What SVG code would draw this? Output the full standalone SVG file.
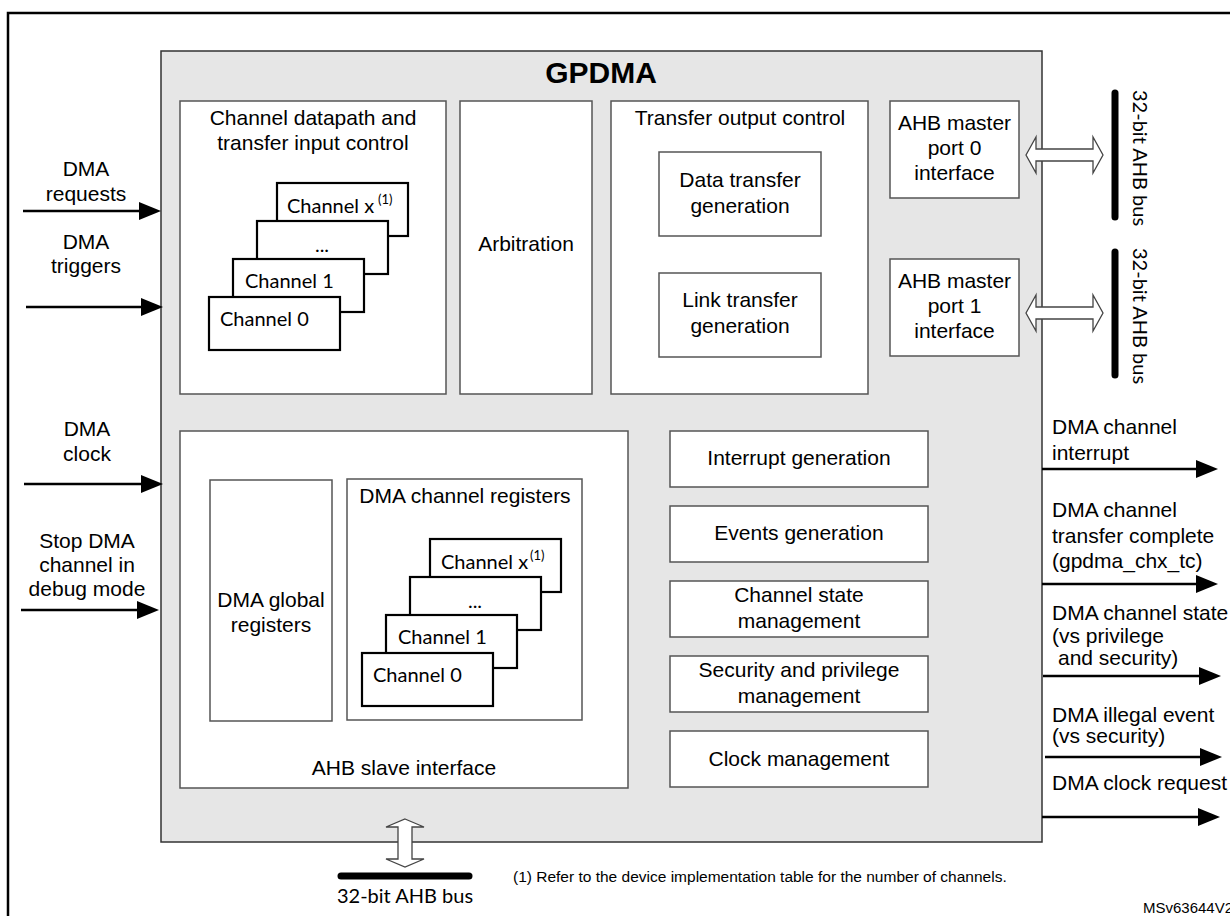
<svg xmlns="http://www.w3.org/2000/svg" width="1230" height="916" viewBox="0 0 1230 916">
<defs>
<marker id="ah" markerUnits="userSpaceOnUse" markerWidth="22" markerHeight="18" refX="12" refY="9" orient="auto"><path d="M0,0 L22,9 L0,18 Z" fill="#000"/></marker>
</defs>
<style>
.t{font-family:"Liberation Sans",Arial,sans-serif;font-size:21px;fill:#000}
.c{text-anchor:middle}
.cal{font-family:Lato,"Liberation Sans",sans-serif;font-size:20px;fill:#000}
.sup{font-family:Lato,"Liberation Sans",sans-serif;font-size:13px;fill:#000}
.box{fill:#fff;stroke:#555;stroke-width:1.5}
.ch{fill:#fff;stroke:#000;stroke-width:2.2}
.sig{stroke:#000;stroke-width:2.5;fill:none;marker-end:url(#ah)}
.dbl{fill:#fff;stroke:#444;stroke-width:1.3}
.bar{stroke:#000;stroke-width:7;stroke-linecap:round}
</style>
<rect x="0" y="0" width="1230" height="916" fill="#fff"/>
<rect x="8" y="13" width="1240" height="920" fill="#fff" stroke="#000" stroke-width="2.5"/>

<g id="gpdma">
<rect x="161" y="51" width="881" height="791" fill="#e6e6e6" stroke="#333" stroke-width="1.5"/>
<text x="601" y="83" class="t c" style="font-weight:bold;font-size:30px">GPDMA</text>
</g>

<g id="channel-datapath">
<rect x="180" y="101" width="266" height="293" class="box"/>
<text x="313" y="125" class="t c">Channel datapath and</text>
<text x="313" y="150" class="t c">transfer input control</text>
<rect x="277" y="183" width="131" height="53" class="ch"/>
<text x="287" y="213" class="cal">Channel x</text>
<text x="378" y="204" class="sup">(1)</text>
<rect x="257" y="221" width="131" height="53" class="ch"/>
<text x="322" y="252" class="cal c">...</text>
<rect x="233" y="259" width="131" height="53" class="ch"/>
<text x="245" y="288" class="cal">Channel 1</text>
<rect x="209" y="297" width="131" height="53" class="ch"/>
<text x="220" y="326" class="cal">Channel 0</text>
</g>

<g id="arbitration">
<rect x="460" y="101" width="132" height="293" class="box"/>
<text x="526" y="251" class="t c">Arbitration</text>
</g>

<g id="transfer-output">
<rect x="611" y="101" width="257" height="293" class="box"/>
<text x="740" y="125" class="t c">Transfer output control</text>
<rect x="659" y="152" width="162" height="84" class="box"/>
<text x="740" y="187" class="t c">Data transfer</text>
<text x="740" y="213" class="t c">generation</text>
<rect x="659" y="273" width="162" height="84" class="box"/>
<text x="740" y="307" class="t c">Link transfer</text>
<text x="740" y="333" class="t c">generation</text>
</g>

<g id="ahb-master-0">
<rect x="890" y="101" width="129" height="97" class="box"/>
<text x="954.5" y="130" class="t c">AHB master</text>
<text x="954.5" y="155" class="t c">port 0</text>
<text x="954.5" y="180" class="t c">interface</text>
</g>

<g id="ahb-master-1">
<rect x="890" y="259" width="129" height="97" class="box"/>
<text x="954.5" y="288" class="t c">AHB master</text>
<text x="954.5" y="313" class="t c">port 1</text>
<text x="954.5" y="338" class="t c">interface</text>
</g>

<g id="ahb-slave">
<rect x="180" y="431" width="448" height="357" class="box"/>
<text x="404" y="775" class="t c">AHB slave interface</text>
<rect x="210" y="480" width="122" height="241" class="box"/>
<text x="271" y="607" class="t c">DMA global</text>
<text x="271" y="632" class="t c">registers</text>
<rect x="347" y="479" width="235" height="241" class="box"/>
<text x="465" y="503" class="t c">DMA channel registers</text>
<rect x="430" y="539" width="131" height="53" class="ch"/>
<text x="441" y="569" class="cal">Channel x</text>
<text x="530" y="560" class="sup">(1)</text>
<rect x="410" y="577" width="131" height="53" class="ch"/>
<text x="475" y="608" class="cal c">...</text>
<rect x="386" y="615" width="131" height="53" class="ch"/>
<text x="398" y="644" class="cal">Channel 1</text>
<rect x="362" y="653" width="131" height="53" class="ch"/>
<text x="373" y="682" class="cal">Channel 0</text>
</g>

<g id="interrupt-generation">
<rect x="670" y="431" width="258" height="56" class="box"/>
<text x="799" y="465" class="t c">Interrupt generation</text>
</g>
<g id="events-generation">
<rect x="670" y="506" width="258" height="56" class="box"/>
<text x="799" y="540" class="t c">Events generation</text>
</g>
<g id="channel-state">
<rect x="670" y="581" width="258" height="56" class="box"/>
<text x="799" y="602" class="t c">Channel state</text>
<text x="799" y="628" class="t c">management</text>
</g>
<g id="security-privilege">
<rect x="670" y="656" width="258" height="56" class="box"/>
<text x="799" y="677" class="t c">Security and privilege</text>
<text x="799" y="703" class="t c">management</text>
</g>
<g id="clock-management">
<rect x="670" y="731" width="258" height="56" class="box"/>
<text x="799" y="766" class="t c">Clock management</text>
</g>

<g id="bus-right-0">
<line x1="1115" y1="93" x2="1115" y2="217" class="bar"/>
<text transform="translate(1133,90) rotate(90)" class="cal">32-bit AHB bus</text>
</g>
<g id="bus-right-1">
<line x1="1115" y1="252" x2="1115" y2="375" class="bar"/>
<text transform="translate(1133,248) rotate(90)" class="cal">32-bit AHB bus</text>
</g>
<g id="bus-bottom">
<line x1="341" y1="876" x2="469" y2="876" class="bar"/>
<text x="405" y="903" class="cal c">32-bit AHB bus</text>
</g>

<g id="labels">
<text x="86" y="176" class="t c">DMA</text>
<text x="86" y="201" class="t c">requests</text>
<text x="86" y="249" class="t c">DMA</text>
<text x="86" y="273" class="t c">triggers</text>
<text x="87" y="436" class="t c">DMA</text>
<text x="87" y="461" class="t c">clock</text>
<text x="87" y="548" class="t c">Stop DMA</text>
<text x="87" y="572" class="t c">channel in</text>
<text x="87" y="596" class="t c">debug mode</text>
<text x="1052" y="434" class="t">DMA channel</text>
<text x="1052" y="460" class="t">interrupt</text>
<text x="1052" y="517" class="t">DMA channel</text>
<text x="1052" y="543" class="t">transfer complete</text>
<text x="1052" y="568" class="t">(gpdma_chx_tc)</text>
<text x="1052" y="620" class="t">DMA channel state</text>
<text x="1052" y="643" class="t">(vs privilege</text>
<text x="1058" y="665" class="t">and security)</text>
<text x="1052" y="722" class="t">DMA illegal event</text>
<text x="1052" y="743" class="t">(vs security)</text>
<text x="1052" y="790" class="t">DMA clock request</text>
<text x="513" y="882" class="t" style="font-size:15.5px">(1) Refer to the device implementation table for the number of channels.</text>
<text x="1143" y="913" class="t" style="font-size:15px">MSv63644V2</text>
</g>

<g id="connectors">
<line x1="23" y1="211" x2="151" y2="211" class="sig"/>
<line x1="26" y1="307" x2="153" y2="307" class="sig"/>
<line x1="24" y1="484" x2="153" y2="484" class="sig"/>
<line x1="21" y1="610" x2="149" y2="610" class="sig"/>
<line x1="1042" y1="469" x2="1208" y2="469" class="sig"/>
<line x1="1042" y1="584" x2="1208" y2="584" class="sig"/>
<line x1="1043" y1="676" x2="1211" y2="676" class="sig"/>
<line x1="1045" y1="757" x2="1212" y2="757" class="sig"/>
<line x1="1042" y1="817" x2="1210" y2="817" class="sig"/>
<polygon points="1026,155 1036,137 1036,149 1093,149 1093,137 1103,155 1093,173 1093,161 1036,161 1036,173" class="dbl"/>
<polygon points="1026,313 1036,295 1036,307 1093,307 1093,295 1103,313 1093,331 1093,319 1036,319 1036,331" class="dbl"/>
<polygon points="405,819 424,827 412,827 412,859 424,859 405,867 386,859 398,859 398,827 386,827" class="dbl"/>
</g>
</svg>
